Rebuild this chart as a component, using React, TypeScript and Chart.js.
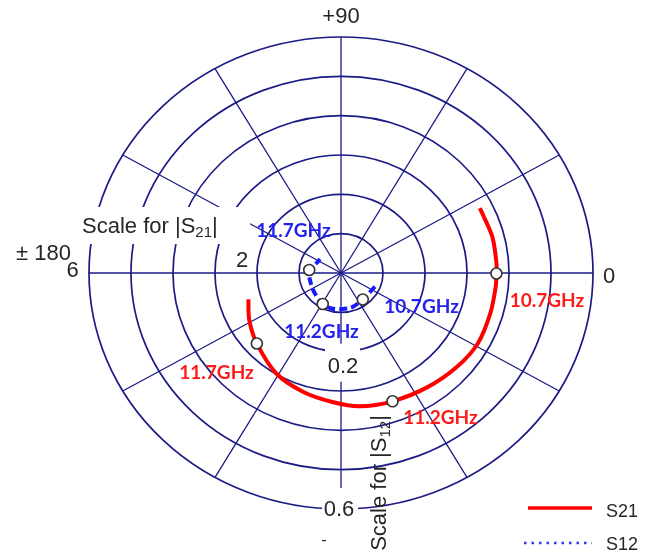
import React, { useEffect, useRef } from 'react';
import { Chart, registerables } from 'chart.js';

Chart.register(...registerables);

// ---- data (magnitude, phase in degrees), ordered by increasing frequency ----
const s21Mag = [3.695, 3.719, 3.71, 3.7, 3.7, 3.7, 3.717, 3.65, 3.561, 3.485, 3.417, 3.285, 3.154, 2.984, 2.688, 2.49, 2.305];
const s21Phase = [26.5, 14.4, 3.8, -0.2, -5.4, -16.1, -28.8, -40.8, -54.4, -69.4, -82.6, -93.6, -106.5, -121.1, -138.2, -151.3, -163.1];
const s12Mag = [0.088, 0.085, 0.091, 0.092, 0.093, 0.09, 0.08, 0.076, 0.076, 0.064, 0.061];
const s12Phase = [-23.3, -52.4, -73.7, -91.5, -103.8, -118.9, -143.5, -166.4, 174.3, 157.4, 145];

const markerLabels = ['10.7GHz', '11.2GHz', '11.7GHz'];
const s21MarkerMag = [3.7, 3.485, 2.688];
const s21MarkerPhase = [-0.2, -69.4, -138.2];
const s12MarkerMag = [0.085, 0.09, 0.076];
const s12MarkerPhase = [-52.4, -118.9, 174.3];

const s21Rings = [1, 2, 3, 4, 5, 6];
const spokeAngles = [0, 30, 60, 90, 120, 150, 180, 210, 240, 270, 300, 330];
const s21TickValues = [2, 6];
const s21TickLabels = ['2', '6'];
const s12TickValues = [0.2, 0.6];
const s12TickLabels = ['0.2', '0.6'];
const angleLabels = ['0', '+90', '± 180'];
const seriesNames = ['S21', 'S12'];

const RED = '#ff0000';
const BLUE = '#1a1aff';
const GRID = '#1b1b86';
const TEXT = '#262626';
const SANS = '"Liberation Sans", Arial, sans-serif';
const LABF = 'Lato, "Liberation Sans", sans-serif';

const toXY = (m: number[], p: number[]) =>
  m.map((r, i) => ({ x: r * Math.cos((p[i] * Math.PI) / 180), y: r * Math.sin((p[i] * Math.PI) / 180) }));

// label placement offsets (px) relative to marker points
const s21LabelOffsets = [[50.5, 33.5], [48, 23], [-40.3, 35.7]];
const s12LabelOffsets = [[58.8, 13.7], [-1.2, 34], [-15.8, -33]];

function drawParts(ctx: CanvasRenderingContext2D, parts: { t: string; size: number; dy: number }[], x: number, y: number, align: 'left' | 'center') {
  let total = 0;
  parts.forEach((p) => {
    ctx.font = `${p.size}px ${SANS}`;
    total += ctx.measureText(p.t).width;
  });
  let cx = align === 'center' ? x - total / 2 : x;
  ctx.textAlign = 'left';
  parts.forEach((p) => {
    ctx.font = `${p.size}px ${SANS}`;
    ctx.fillText(p.t, cx, y + p.dy);
    cx += ctx.measureText(p.t).width;
  });
}

const polarGrid = {
  id: 'polarGrid',
  beforeDatasetsDraw(chart: any) {
    const { ctx } = chart;
    const xs = chart.scales.x;
    const ys = chart.scales.y;
    const y2 = chart.scales.y2;
    const cx = xs.getPixelForValue(0);
    const cy = ys.getPixelForValue(0);
    const rMax = s21Rings[s21Rings.length - 1];
    ctx.save();
    // spokes
    ctx.strokeStyle = GRID;
    ctx.lineWidth = 1.3;
    spokeAngles.forEach((a) => {
      const rad = (a * Math.PI) / 180;
      ctx.beginPath();
      ctx.moveTo(cx, cy);
      ctx.lineTo(xs.getPixelForValue(rMax * Math.cos(rad)), ys.getPixelForValue(rMax * Math.sin(rad)));
      ctx.stroke();
    });
    // rings
    ctx.lineWidth = 1.7;
    s21Rings.forEach((r) => {
      const rx = xs.getPixelForValue(r) - cx;
      const ry = cy - ys.getPixelForValue(r);
      ctx.beginPath();
      ctx.ellipse(cx, cy, rx, ry, 0, 0, Math.PI * 2);
      ctx.stroke();
    });
    // white boxes behind scale labels
    ctx.fillStyle = '#ffffff';
    ctx.fillRect(78, 207, 172, 37);
    const p02 = y2.getPixelForValue(-s12TickValues[0]);
    ctx.fillRect(cx - 16, p02 - 8, 35, 38);
    const p06 = y2.getPixelForValue(-s12TickValues[1]);
    ctx.fillRect(cx - 19, p06 - 21, 36, 43);

    // text labels
    ctx.fillStyle = TEXT;
    ctx.textBaseline = 'alphabetic';
    ctx.font = `22px ${SANS}`;
    ctx.textAlign = 'center';
    // angle labels
    ctx.fillText(angleLabels[1], cx, ys.getPixelForValue(rMax) - 14);
    ctx.fillText(angleLabels[0], xs.getPixelForValue(rMax) + 16, cy + 10);
    ctx.textAlign = 'left';
    ctx.fillText(angleLabels[2], 16, cy - 13);
    // S21 scale ticks
    ctx.textAlign = 'center';
    s21TickValues.forEach((v, i) => {
      const px = xs.getPixelForValue(-v);
      if (i === 0) ctx.fillText(s21TickLabels[i], px - 15, cy - 6);
      else ctx.fillText(s21TickLabels[i], px - 16.5, cy + 4);
    });
    // S12 scale ticks
    s12TickValues.forEach((v, i) => {
      const py = y2.getPixelForValue(-v);
      if (i === 0) ctx.fillText(s12TickLabels[i], cx + 2, py + 21);
      else ctx.fillText(s12TickLabels[i], cx - 2, py + 7);
    });
    ctx.font = `16px ${SANS}`;
    ctx.fillText('-', cx - 17, y2.getPixelForValue(-0.6) + 36);
    // axis titles
    drawParts(ctx, [
      { t: 'Scale for |S', size: 22, dy: 0 },
      { t: '21', size: 15, dy: 4 },
      { t: '|', size: 22, dy: 0 },
    ], 82, 233, 'left');
    ctx.save();
    ctx.translate(386, 483);
    ctx.rotate(-Math.PI / 2);
    drawParts(ctx, [
      { t: 'Scale for |S', size: 22, dy: 0 },
      { t: '12', size: 15, dy: 4 },
      { t: '|', size: 22, dy: 0 },
    ], 0, 0, 'center');
    ctx.restore();
    ctx.restore();
  },
  afterDatasetsDraw(chart: any) {
    const { ctx } = chart;
    ctx.save();
    ctx.textAlign = 'center';
    ctx.textBaseline = 'alphabetic';
    ctx.font = `bold 19px ${LABF}`;
    const draw = (ds: number, offs: number[][], color: string) => {
      const meta = chart.getDatasetMeta(ds);
      ctx.fillStyle = color;
      meta.data.forEach((pt: any, i: number) => {
        ctx.fillText(markerLabels[i], pt.x + offs[i][0], pt.y + offs[i][1]);
      });
    };
    draw(0, s21LabelOffsets, '#ff1a1a');
    draw(1, s12LabelOffsets, '#2222ee');

    // legend
    ctx.lineCap = 'butt';
    ctx.strokeStyle = RED;
    ctx.lineWidth = 3.5;
    ctx.beginPath();
    ctx.moveTo(528, 508);
    ctx.lineTo(592, 508);
    ctx.stroke();
    ctx.strokeStyle = '#3333ff';
    ctx.lineWidth = 2.5;
    ctx.setLineDash([2.5, 5]);
    ctx.beginPath();
    ctx.moveTo(524, 543);
    ctx.lineTo(592, 543);
    ctx.stroke();
    ctx.setLineDash([]);
    ctx.fillStyle = TEXT;
    ctx.font = `18px ${SANS}`;
    ctx.textAlign = 'left';
    ctx.fillText(seriesNames[0], 606, 517);
    ctx.fillText(seriesNames[1], 606, 550);
    ctx.restore();
  },
};

export default function App() {
  const ref = useRef<HTMLCanvasElement | null>(null);
  useEffect(() => {
    if (!ref.current) return;
    const chart = new Chart(ref.current, {
      type: 'scatter',
      data: {
        datasets: [
          {
            label: 'S21 markers',
            data: toXY(s21MarkerMag, s21MarkerPhase),
            xAxisID: 'x',
            yAxisID: 'y',
            showLine: false,
            pointRadius: 5.5,
            pointBorderWidth: 1.6,
            pointBackgroundColor: '#ffffff',
            pointBorderColor: '#333333',
            order: 0,
          },
          {
            label: 'S12 markers',
            data: toXY(s12MarkerMag, s12MarkerPhase),
            xAxisID: 'x2',
            yAxisID: 'y2',
            showLine: false,
            pointRadius: 5.5,
            pointBorderWidth: 1.6,
            pointBackgroundColor: '#ffffff',
            pointBorderColor: '#333333',
            order: 0,
          },
          {
            label: seriesNames[0],
            data: toXY(s21Mag, s21Phase),
            xAxisID: 'x',
            yAxisID: 'y',
            showLine: true,
            borderColor: RED,
            borderWidth: 4,
            pointRadius: 0,
            tension: 0.3,
            order: 1,
          },
          {
            label: seriesNames[1],
            data: toXY(s12Mag, s12Phase),
            xAxisID: 'x2',
            yAxisID: 'y2',
            showLine: true,
            borderColor: BLUE,
            borderWidth: 4,
            borderDash: [8, 4],
            pointRadius: 0,
            tension: 0.3,
            order: 1,
          },
        ],
      },
      options: {
        animation: false,
        responsive: false,
        devicePixelRatio: 1,
        layout: { padding: { left: 89, right: 59, top: 37, bottom: 50 } },
        plugins: { legend: { display: false }, tooltip: { enabled: false } },
        scales: {
          x: { type: 'linear', min: -6, max: 6, display: false },
          y: { type: 'linear', min: -6, max: 6, display: false },
          x2: { type: 'linear', min: -0.6, max: 0.6, display: false },
          y2: { type: 'linear', min: -0.6, max: 0.6, display: false },
        },
      },
      plugins: [polarGrid],
    });
    return () => chart.destroy();
  }, []);
  return (
    <div style={{ position: 'absolute', left: 0, top: 0, width: 652, height: 559, background: '#fff' }}>
      <canvas ref={ref} width={652} height={559} />
    </div>
  );
}
